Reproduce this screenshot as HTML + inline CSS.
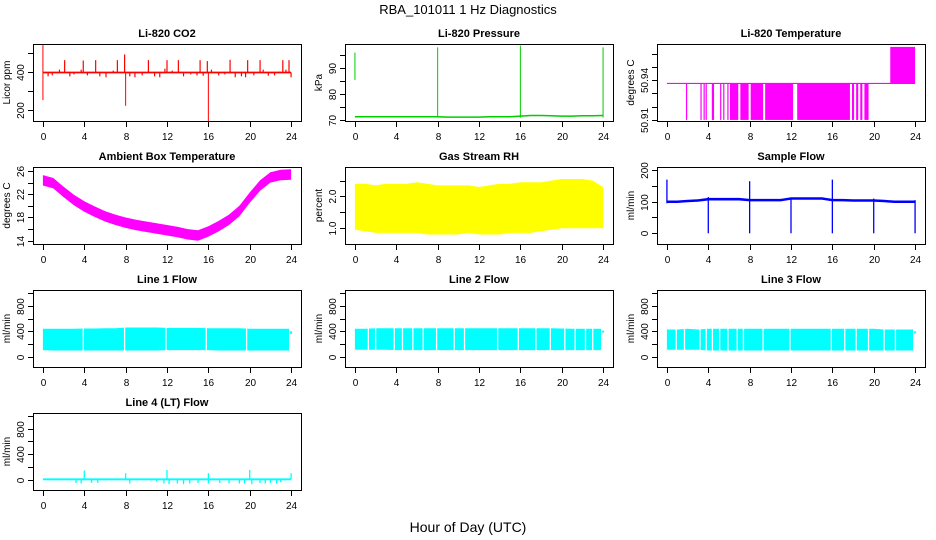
<!DOCTYPE html>
<html><head><meta charset="utf-8">
<style>
html,body{margin:0;padding:0;background:#fff;}
svg{display:block;font-family:"Liberation Sans",Helvetica,Arial,sans-serif;}
</style></head>
<body>
<svg id="chart" width="936" height="540" viewBox="0 0 936 540" xmlns="http://www.w3.org/2000/svg">
<rect width="936" height="540" fill="#fff"/>
<text x="468" y="14" font-size="13" text-anchor="middle">RBA_101011  1 Hz Diagnostics</text>
<text x="468" y="532" font-size="14" text-anchor="middle">Hour of Day (UTC)</text>
</svg>
<script>
// ---------- data ----------
const hourTicks = [0,4,8,12,16,20,24];
const hours = [0,1,2,3,4,5,6,7,8,9,10,11,12,13,14,15,16,17,18,19,20,21,22,23,24];
const flowHours = [0,1,2,3,4,5,6,7,8,9,10,11,12,13,14,15,16,17,18,19,20,21,22,23,23.8];

// CO2
const co2Base = 395;
const co2UpTimes = [2.1,3.9,5.1,7.2,7.9,10.2,12.0,13.1,15.2,15.9,18.1,19.8,21.0,23.2,23.8];
const co2UpVals  = [460,458,460,460,490,460,460,460,460,455,462,460,460,460,460];
const co2DownTimes = [0.0,8.0,16.0];
const co2DownVals  = [250,220,140];
const co2HighTimes = [0.0];
const co2HighVals  = [545];
const co2SmallTimes = [0.5,0.9,1.6,2.6,3.0,3.7,4.3,5.5,6.1,6.8,8.4,8.9,9.6,10.8,11.3,11.8,12.5,13.6,14.3,14.9,15.5,16.3,17.0,17.6,18.6,19.2,19.6,20.4,21.3,21.8,22.4,22.9,23.5,24.0];
const co2SmallVals  = [375,380,410,375,385,410,380,375,370,405,375,370,380,375,370,415,405,375,385,380,378,410,380,385,370,375,370,380,410,378,380,400,410,370];

// Pressure
const presBase = [71.3,71.3,71.3,71.3,71.3,71.3,71.3,71.3,71.3,71.2,71.2,71.2,71.2,71.3,71.3,71.3,71.6,71.8,71.8,71.7,71.6,71.6,71.7,71.7,71.8];
const presSpikeTimes = [0,8,16,24];
const presSpikeLo = [85.5,71,71,71];
const presSpikeHi = [96,98,98.7,98];

// Li-820 Temperature
const tempBase = 50.9375;
const tempFloor = 50.91;
const tempDropTimes = [1.9,3.3,3.6,3.8,4.4,4.5,5.2,5.5,5.9];
const tempDenseStart = [6.1,7.1,8.1,9.5,12.6,17.9,18.3,18.7,19.1];
const tempDenseEnd   = [6.9,7.9,9.3,12.2,17.7,18.1,18.5,18.9,19.5];
const tempUpperStart = 21.6, tempUpperEnd = 24.0, tempUpperVal = 50.965;

// Ambient box temperature
const ambCenter = [24.4,23.9,22.4,21.0,19.9,19.0,18.2,17.6,17.1,16.7,16.4,16.1,15.8,15.5,15.1,14.9,15.6,16.5,17.6,19.1,21.4,23.5,24.9,25.3,25.4];
const ambHalf = 0.9;

// Gas stream RH
const rhLo = [0.95,0.9,0.85,0.85,0.85,0.85,0.85,0.8,0.8,0.8,0.8,0.85,0.8,0.8,0.8,0.85,0.85,0.85,0.9,0.95,1.0,1.0,1.0,1.0,1.0];
const rhHi = [2.4,2.4,2.35,2.4,2.4,2.4,2.45,2.4,2.35,2.35,2.35,2.35,2.3,2.35,2.4,2.4,2.45,2.45,2.45,2.5,2.55,2.55,2.55,2.5,2.3];

// Sample flow
const sfBase = [100,100,102,104,108,108,108,108,105,105,105,105,110,110,110,110,105,105,104,104,104,102,100,100,100];
const sfSpikeTimes = [0,4,8,12,16,20,24];
const sfSpikeLo = [95,0,0,0,0,0,0];
const sfSpikeHi = [170,115,165,112,170,110,105];

// Line flows
const l1Lo = [105,100,100,100,100,100,100,100,100,100,100,100,105,105,105,105,105,100,100,100,100,100,100,100,100];
const l1Hi = [440,440,440,440,445,445,450,450,460,460,460,460,455,455,455,455,450,450,450,450,440,440,440,440,440];
const l1Gaps = [3.9,7.9,11.9,15.8,19.7];
const l2Lo = [110,110,110,110,105,105,105,105,105,105,105,105,105,105,105,105,105,105,105,105,105,105,105,105,105];
const l2Hi = [440,440,450,450,450,450,450,450,450,450,450,450,450,450,450,450,450,450,450,450,445,440,440,440,440];
const l2Gaps = [1.3,2.0,3.8,4.6,5.6,6.6,7.9,9.6,10.6,13.8,15.8,17.5,18.9,20.3,21.3,22.3,23.0];
const l3Lo = [110,110,110,110,100,100,100,100,100,100,100,100,100,100,100,100,100,100,100,100,100,100,100,100,100];
const l3Hi = [430,430,440,430,440,440,440,440,440,440,440,440,440,440,440,440,440,440,440,440,440,430,430,430,430];
const l3Gaps = [0.9,1.7,3.2,3.8,4.4,5.1,5.9,6.8,7.4,9.3,11.9,15.9,17.2,18.3,19.5,21.0,22.1];
const flowEndLo = [360,380,370];
const flowEndHi = [400,410,400];
const l4Base = 15;
const l4SpikeTimes = [4.0,8.0,12.0,16.0,20.0,24.0];
const l4SpikeVals = [150,110,160,110,160,110];
const l4DipTimes = [3.2,3.7,4.7,5.3,8.4,11.0,11.7,12.2,13.0,13.6,14.2,15.0,16.0,17.1,18.0,19.0,19.5,20.2,21.0,21.5,22.0,22.6,23.0];
const l4DipVals = [-40,-50,-40,-40,-50,-20,-50,-60,-50,-60,-50,-40,-50,-40,-50,-50,-50,-60,-40,-50,-40,-50,-30];

// ---------- rendering ----------
const svg = document.getElementById('chart');
const NS = 'http://www.w3.org/2000/svg';
const colLeft = [33, 345, 657];
const rowTop = [44, 167, 290, 413];
const PW = 268, PH = 77;
const XMIN = -0.96, XMAX = 24.96;

function el(tag, attrs, parent){
  const e = document.createElementNS(NS, tag);
  for (const k in attrs) e.setAttribute(k, attrs[k]);
  (parent||svg).appendChild(e);
  return e;
}

function makePanel(name, col, row, title, ylab, ymin, ymax, yticks, ylabels){
  const L = colLeft[col], T = rowTop[row];
  const g = el('g', {});
  
  
  const sx = t => L + (t - XMIN) / (XMAX - XMIN) * PW;
  const sy = v => T + PH - (v - ymin) / (ymax - ymin) * PH;
  const plot = el('g', {}, g);
  
  
  const clip = 'clip-' + name;
  const cp = el('clipPath', {id: clip}, g);
  el('rect', {x: L, y: T, width: PW, height: PH}, cp);
  plot.setAttribute('clip-path', 'url(#' + clip + ')');
  const box = el('rect', {x: L + 0.5, y: T + 0.5, width: PW, height: PH, fill: 'none', stroke: '#000', 'stroke-width': 1}, g);
  
  
  const tt = el('text', {x: L + PW/2, y: T - 7, 'font-size': 11, 'font-weight': 'bold', 'text-anchor': 'middle'}, g);
  tt.textContent = title;
  
  
  const xa = el('g', {}, g);
  
  
  hourTicks.forEach(h => {
    const x = Math.round(sx(h)) + 0.5;
    el('line', {x1: x, x2: x, y1: T + PH + 0.5, y2: T + PH + 6, stroke: '#000'}, xa);
    const tx = el('text', {x: x, y: T + PH + 19, 'font-size': 10, 'text-anchor': 'middle'}, xa);
    tx.textContent = h;
  });
  const ya = el('g', {}, g);
  
  
  yticks.forEach((v, i) => {
    const y = Math.round(sy(v)) + 0.5;
    el('line', {x1: L - 5, x2: L + 0.5, y1: y, y2: y, stroke: '#000'}, ya);
    if (ylabels[i] !== '') {
      const tx = el('text', {x: 0, y: 0, 'font-size': 10, 'text-anchor': 'middle', transform: 'translate(' + (L - 9) + ',' + y + ') rotate(-90)'}, ya);
      tx.textContent = ylabels[i];
    }
  });
  const yt = el('text', {x: 0, y: 0, 'font-size': 10, 'text-anchor': 'middle', transform: 'translate(' + (L - 23) + ',' + (T + PH/2) + ') rotate(-90)'}, g);
  yt.textContent = ylab;
  
  
  return {plot, sx, sy};
}

function vline(p, t, v1, v2, color, w){
  const x = p.sx(t);
  return el('line', {x1: x, x2: x, y1: p.sy(v1), y2: p.sy(v2), stroke: color, 'stroke-width': w || 1.2}, p.plot);
}
function band(p, xs, lo, hi, color){
  let d = '';
  xs.forEach((t, i) => { d += (i ? 'L' : 'M') + p.sx(t).toFixed(1) + ',' + p.sy(hi[i]).toFixed(1); });
  for (let i = xs.length - 1; i >= 0; i--) d += 'L' + p.sx(xs[i]).toFixed(1) + ',' + p.sy(lo[i]).toFixed(1);
  return el('path', {d: d + 'Z', fill: color}, p.plot);
}
function polyline(p, xs, ys, color, w){
  const pts = xs.map((t, i) => p.sx(t).toFixed(1) + ',' + p.sy(ys[i]).toFixed(1)).join(' ');
  return el('polyline', {points: pts, fill: 'none', stroke: color, 'stroke-width': w || 1.5}, p.plot);
}

// CO2
let p = makePanel('co2', 0, 0, 'Li-820 CO2', 'Licor ppm', 140, 545, [200,300,400,500], ['200','','400','']);
el('line', {x1: p.sx(0), x2: p.sx(24), y1: p.sy(co2Base), y2: p.sy(co2Base), stroke: 'red', 'stroke-width': 1.8}, p.plot);
co2SmallTimes.forEach((t, i) => vline(p, t, co2Base, co2SmallVals[i], 'red', 1.2));
co2UpTimes.forEach((t, i) => vline(p, t, co2Base, co2UpVals[i], 'red', 1.2));
co2DownTimes.forEach((t, i) => vline(p, t, co2Base, co2DownVals[i], 'red', 1));
co2HighTimes.forEach((t, i) => vline(p, t, co2Base, co2HighVals[i], 'red', 1));

// Pressure
p = makePanel('pressure', 1, 0, 'Li-820 Pressure', 'kPa', 69.7, 99.3, [70,75,80,85,90,95], ['70','','80','','90','']);
polyline(p, hours, presBase, '#00cc00', 1.5);
presSpikeTimes.forEach((t, i) => vline(p, t, presSpikeLo[i], presSpikeHi[i], '#00cc00', 1));

// Li-820 Temperature
p = makePanel('li820-temp', 2, 0, 'Li-820 Temperature', 'degrees C', 50.9092, 50.9672, [50.91,50.92,50.93,50.94,50.95,50.96], ['50.91','','','50.94','','']);
el('line', {x1: p.sx(0), x2: p.sx(24), y1: p.sy(tempBase), y2: p.sy(tempBase), stroke: 'magenta', 'stroke-width': 1.2}, p.plot);
tempDropTimes.forEach(t => vline(p, t, tempFloor, tempBase, 'magenta', 1.2));
tempDenseStart.forEach((s, i) => {
  el('rect', {x: p.sx(s), y: p.sy(tempBase), width: p.sx(tempDenseEnd[i]) - p.sx(s), height: p.sy(tempFloor) - p.sy(tempBase), fill: 'magenta'}, p.plot);
});
el('rect', {x: p.sx(tempUpperStart), y: p.sy(tempUpperVal), width: p.sx(tempUpperEnd) - p.sx(tempUpperStart), height: p.sy(tempBase) - p.sy(tempUpperVal), fill: 'magenta'}, p.plot);

// Ambient
p = makePanel('ambient-temp', 0, 1, 'Ambient Box Temperature', 'degrees C', 13.43, 26.69, [14,16,18,20,22,24,26], ['14','','18','','22','','26']);
band(p, hours, ambCenter.map(v => v - ambHalf), ambCenter.map(v => v + ambHalf), 'magenta');

// RH
p = makePanel('gas-rh', 1, 1, 'Gas Stream RH', 'percent', 0.5, 2.93, [1.0,1.5,2.0,2.5], ['1.0','','2.0','']);
band(p, hours, rhLo, rhHi, 'yellow');

// Sample flow
p = makePanel('sample-flow', 2, 1, 'Sample Flow', 'ml/min', -34, 210, [0,50,100,150,200], ['0','','100','','200']);
band(p, hours, sfBase.map(v => v - 4), sfBase.map(v => v + 4), 'blue');
sfSpikeTimes.forEach((t, i) => vline(p, t, sfSpikeLo[i], sfSpikeHi[i], 'blue', 1.3));

// Line flows
const flowTicks = [0,200,400,600,800,1000], flowLabels = ['0','','400','','800',''];
function flowPanel(name, col, row, title, lo, hi, gaps, k){
  const q = makePanel(name, col, row, title, 'ml/min', -160, 1050, flowTicks, flowLabels);
  band(q, flowHours, lo, hi, 'cyan');
  gaps.forEach(t => vline(q, t, 80, 480, '#fff', 1.3));
  vline(q, 24, flowEndLo[k], flowEndHi[k], 'cyan', 2);
  return q;
}
flowPanel('line1-flow', 0, 2, 'Line 1 Flow', l1Lo, l1Hi, l1Gaps, 0);
flowPanel('line2-flow', 1, 2, 'Line 2 Flow', l2Lo, l2Hi, l2Gaps, 1);
flowPanel('line3-flow', 2, 2, 'Line 3 Flow', l3Lo, l3Hi, l3Gaps, 2);

p = makePanel('line4-flow', 0, 3, 'Line 4 (LT) Flow', 'ml/min', -150, 1040, flowTicks, flowLabels);
el('rect', {x: p.sx(0), y: p.sy(l4Base + 15), width: p.sx(24) - p.sx(0), height: p.sy(l4Base - 15) - p.sy(l4Base + 15), fill: 'cyan'}, p.plot);
l4SpikeTimes.forEach((t, i) => vline(p, t, l4Base, l4SpikeVals[i], 'cyan', 1.3));
l4DipTimes.forEach((t, i) => vline(p, t, l4Base, l4DipVals[i], 'cyan', 1.3));
</script>
</body></html>
